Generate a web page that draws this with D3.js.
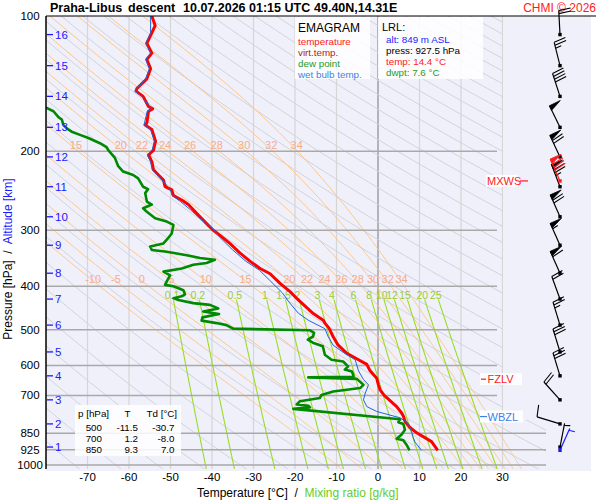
<!DOCTYPE html>
<html><head><meta charset="utf-8">
<script src="https://cdn.jsdelivr.net/npm/d3@7"></script>
<style>
body{margin:0;background:#fff;}
svg{display:block;font-family:"Liberation Sans",Arial,sans-serif;}
</style>
</head><body>
<svg id="c" width="600" height="500"></svg>
<script>
// ---------------- data ----------------
const pressureLevels = [200,300,400,500,600,700,850,925,1000];
const pressureLabels = [100,200,300,400,500,600,700,850,925,1000];
const tempTicks = [-70,-60,-50,-40,-30,-20,-10,0,10,20,30];
const isotherms = [-70,-60,-50,-40,-30,-20,-10,0,10,20,30];
const altKm = [1,2,3,4,5,6,7,8,9,10,11,12,13,14,15,16];
const altP  = [912,810,716,633,560,488,427,374,324,280,240,206,177,151,129,110];

const tempP = [100,105,109,113,115,121,125,131,138,145,147,151,159,161,163,173,175,179,190,199,204,211,220,226,232,240,244,251,257,263,270,280,290,300,310,321,337,352,365,375,394,411,429,460,476,483,493,500,518,541,564,583,597,617,641,663,680,700,741,766,778,799,825,850,887,927.5];
const tempT = [-54.5,-53.7,-54.5,-55.3,-55.7,-54.5,-55.7,-54.8,-55.7,-58.1,-58.3,-56.6,-55.3,-54.3,-55.3,-55.7,-56.1,-54.5,-53.6,-54.1,-55.3,-54.5,-54.1,-52.9,-51.7,-51.3,-49.7,-49.3,-47.3,-45.7,-44.5,-42.9,-41.3,-39.7,-37.7,-35.7,-33.3,-30.8,-28.4,-26.0,-23.6,-21.2,-19.2,-15.6,-13.2,-12.8,-12.0,-11.6,-10.8,-9.6,-7.5,-4.7,-2.7,-1.9,-0.3,0.1,0.5,1.5,4.5,5.7,6.1,6.5,7.7,9.5,12.9,14.4];

const dewP = [157,160,163,168,170,175,178,181,184,187,192,196,199,207,216,222,226,230,240,243,248,259,263,268,273,282,287,292,305,315,321,326,332,335,341,346,349,355,358,365,371,378,390,397,400,408,417,421,425,429,436,440,448,455,461,469,477,483,488,497,501,508,518,526,534,544,568,583,588,603,613,619,629,636,638,643,663,674,686,698,709,721,733,738,744,750,791,803,810,835,855,874,881,902,927.5];
const dewT = [-81,-80,-78.2,-77.0,-76.2,-75.8,-75.0,-73.8,-71.8,-69.8,-67.0,-65.4,-65.0,-63.4,-62.6,-61.4,-59.0,-57.8,-56.6,-55.4,-56.1,-55.7,-54.5,-56.6,-55.7,-53.7,-50.9,-49.3,-49.7,-50.9,-51.7,-54.9,-54.5,-50.9,-46.1,-42.9,-39.3,-41.3,-44.5,-47.3,-51.7,-50.1,-50.9,-51.3,-49.3,-46.9,-46.5,-47.3,-49.3,-48.1,-44.5,-40.5,-38.5,-42.1,-38.3,-42.3,-42.5,-38.9,-36.5,-34.9,-16.4,-15.4,-15.7,-16.9,-15.7,-13.3,-12.8,-11.2,-8.4,-7.2,-8.0,-6.3,-6.0,-5.9,-16.8,-5.1,-3.5,-4.3,-10.8,-13.6,-14.0,-18.8,-19.6,-16.8,-16.4,-20.4,5.3,4.9,6.1,6.5,5.7,4.5,6.1,6.9,7.6];

const wbP = [100,109,115,121,125,131,138,147,151,161,163,175,179,190,199,204,211,220,232,244,251,259,270,282,297,310,332,352,368,387,414,433,459,476,497,518,541,561,583,617,645,663,693,716,741,760,785,803,825,843,869,889,927.5];
const wbT = [-54.8,-54.8,-56.0,-54.8,-56.0,-55.1,-56.0,-58.6,-56.9,-54.6,-55.6,-56.4,-54.8,-53.9,-54.4,-55.6,-54.8,-54.4,-52.0,-50.0,-49.6,-47.6,-45.2,-43.0,-39.9,-38.3,-35.0,-31.8,-28.6,-26.2,-23.0,-21.5,-19.2,-16.8,-12.8,-12.0,-10.8,-8.4,-5.5,-4.7,-3.5,-2.3,-3.1,-3.5,-2.7,-0.3,5.3,6.9,7.7,8.1,8.5,8.9,10.5];

// wind at each km altitude (altP)
const windDir = [11,287,318,343,343,343,340,336,336,336,339,335,334,342,346,357];
const windKt  = [5,10,20,30,30,25,20,60,55,70,75,70,50,40,25,20];
const mxwsP = 233, mxwsDir = 336, mxwsKt = 80;
const sfcP = 927.5, sfcDir = 24, sfcKt = 5;
const fzlvP = 644, wbzlP = 780;

const mixRatios = [0.1,0.2,0.5,1,1.5,2,3,4,6,8,10,12,15,20,25];
const mixLabels = ["0.1","0.2","0.5","1","1.5","2","3","4","6","8","10","12","15","20","25"];
const thetaW = [-10,-5,0,5,10,15,20,22,24,26,28,30,32,34];
const thetaWLow = [-10,-5,0,5,10,15,20,22,24,26,28,30,32,34];
const thetaWHigh = [15,20,22,24,26,28,30,32,34];
const thetaDry = d3.range(190, 620, 10);

const tableRows = [["500","-11.5","-30.7"],["700","1.2","-8.0"],["850","9.3","7.0"]];

// ---------------- scales ----------------
const svg = d3.select("#c");
const x = d3.scaleLinear().domain([-80,30]).range([46,502.5]);
const y = d3.scaleLog().domain([100,1000]).range([16,465]);
const X0 = 46, Ytop = 16, Ybot = 469;

// background
svg.append("rect").attr("x",X0).attr("y",Ytop).attr("width",591-X0).attr("height",471-Ytop).attr("fill","#f0f0fb");

const defs = svg.append("defs");
defs.append("clipPath").attr("id","plot").append("path")
  .attr("d",`M${X0},${Ytop}H503V420H546V${Ybot}H${X0}Z`);
const g = svg.append("g").attr("clip-path","url(#plot)");

// thermodynamics helpers (background reference lines)
const es = Tc => 6.112*Math.exp(17.67*Tc/(Tc+243.5));
function dTdp(p,T){const e=es(T-273.15);const rs=0.622*e/(p-e);const Rd=287.04,cp=1005.7,L=2.501e6;
  return (Rd*T+L*rs)/(p*(cp+L*L*rs*0.622/(Rd*T*T)));}
function moistLine(tw){
  const up=[];let T=tw+273.15;
  for(let p=1000;p>=95;p-=2){up.push([p,T-273.15]);const k1=dTdp(p,T);const k2=dTdp(p-1,T-k1);T+= -2*k2;}
  const dn=[];T=tw+273.15;
  for(let p=1000;p<=1040;p+=2){dn.push([p,T-273.15]);const k2=dTdp(p+1,T+dTdp(p,T));T+=2*k2;}
  return dn.reverse().concat(up.slice(1));
}
const line = d3.line().x(d=>x(d[1])).y(d=>y(d[0]));

// isotherms
g.selectAll(".iso").data(isotherms).join("line")
  .attr("x1",d=>x(d)).attr("x2",d=>x(d)).attr("y1",Ytop).attr("y2",Ybot)
  .attr("stroke",d=>d===0?"#8c8c8c":"#d6d6d6").attr("stroke-width",1.2);

// dry adiabats
g.selectAll(".dry").data(thetaDry).join("path")
  .attr("d",th=>line(d3.range(95,1045,5).map(p=>[p,th*Math.pow(p/1000,0.2857)-273.15])))
  .attr("fill","none").attr("stroke","#d2d2d8").attr("stroke-width",1);

// moist adiabats
g.selectAll(".moist").data(thetaW).join("path")
  .attr("d",tw=>line(moistLine(tw))).attr("fill","none").attr("stroke","#ffc585").attr("stroke-width",1);

// mixing ratio lines
const tdOf = (w,p)=>{const e=w*p/(622+w);const l=Math.log(e/6.112);return 243.5*l/(17.67-l);};
g.selectAll(".mix").data(mixRatios).join("path")
  .attr("d",w=>line(d3.range(428,1041,4).map(p=>[p,tdOf(w,p)])))
  .attr("fill","none").attr("stroke","#99dd22").attr("stroke-width",1.1);

// pressure grid lines
svg.selectAll(".pl").data(pressureLevels).join("line")
  .attr("x1",X0).attr("x2",d=>d>=850?546:497).attr("y1",d=>y(d)).attr("y2",d=>y(d))
  .attr("stroke","#a9a9a9").attr("stroke-width",1.5);

// moist adiabat labels
function moistAtY(tw,yy){const pp=y.invert(yy);const pts=moistLine(tw);let best=pts[0];
  for(const q of pts){if(Math.abs(q[0]-pp)<Math.abs(best[0]-pp))best=q;}return best[1];}
const lblMoist = svg.append("g").attr("clip-path","url(#plot)").attr("font-size",11).attr("fill","#f7ab88").attr("text-anchor","middle").attr("dominant-baseline","central");
lblMoist.selectAll(".a").data(thetaWLow).join("text").attr("x",d=>x(moistAtY(d,279))+2).attr("y",279).text(d=>d);
lblMoist.selectAll(".b").data(thetaWHigh).join("text").attr("x",d=>x(moistAtY(d,145))+5).attr("y",145).text(d=>d);

// mixing ratio labels
svg.append("g").attr("font-size",10.5).attr("fill","#99cc33").attr("text-anchor","middle").attr("dominant-baseline","central")
  .selectAll("text").data(mixRatios).join("text")
  .attr("x",w=>x(tdOf(w,412))).attr("y",295).text((w,i)=>mixLabels[i]);

// profiles
const prof = svg.append("g").attr("clip-path","url(#plot)");
const pl = d3.line().x(d=>x(d[1])).y(d=>y(d[0]));
prof.append("path").attr("d",pl(dewP.map((p,i)=>[p,dewT[i]]))).attr("fill","none").attr("stroke","#008a00").attr("stroke-width",2.6).attr("stroke-linejoin","round");
prof.append("path").attr("d",pl(tempP.map((p,i)=>[p,tempT[i]]))).attr("fill","none").attr("stroke","#ff0000").attr("stroke-width",3).attr("stroke-linejoin","round");
prof.append("path").attr("d",pl(wbP.map((p,i)=>[p,wbT[i]]))).attr("fill","none").attr("stroke","#1e64dc").attr("stroke-width",1).attr("stroke-linejoin","round");

// axes frame
svg.append("line").attr("x1",X0).attr("x2",596).attr("y1",Ytop).attr("y2",Ytop).attr("stroke","#000").attr("stroke-width",1.2);
svg.append("line").attr("x1",X0).attr("x2",X0).attr("y1",Ytop).attr("y2",Ybot).attr("stroke","#000").attr("stroke-width",1.5);

// pressure labels
svg.append("g").attr("font-size",11.5).attr("text-anchor","middle").attr("dominant-baseline","central")
  .selectAll("text").data(pressureLabels).join("text").attr("x",30).attr("y",d=>y(d)).text(d=>d);

// altitude ticks
const alt = svg.append("g").attr("fill","#1a1aff");
alt.selectAll("line").data(altP).join("line").attr("x1",47).attr("x2",53).attr("y1",d=>y(d)).attr("y2",d=>y(d)).attr("stroke","#1a1aff").attr("stroke-width",1.3);
alt.selectAll("text").data(altP).join("text").attr("x",55).attr("y",d=>y(d)).attr("font-size",11.5).attr("dominant-baseline","central").text((d,i)=>altKm[i]);

// x tick labels
svg.append("g").attr("font-size",11.5).attr("text-anchor","middle").attr("dominant-baseline","central")
  .selectAll("text").data(tempTicks).join("text").attr("x",d=>x(d)).attr("y",476.5).text(d=>d);

// axis titles
const xt = svg.append("text").attr("x",197).attr("y",493).attr("font-size",12).attr("dominant-baseline","central").attr("xml:space","preserve");
xt.append("tspan").attr("fill","#000").text("Temperature [°C]  /  ");
xt.append("tspan").attr("fill","#66cc22").text("Mixing ratio [g/kg]");
const yt = svg.append("text").attr("transform","translate(8,259) rotate(-90)").attr("text-anchor","middle").attr("font-size",12).attr("dominant-baseline","central").attr("xml:space","preserve");
yt.append("tspan").attr("fill","#000").text("Pressure [hPa]  /  ");
yt.append("tspan").attr("fill","#1a1aff").text("Altitude [km]");

// header
const hd = svg.append("text").attr("y",12).attr("font-size",12.5).attr("font-weight","bold");
[["Praha-Libus",50],["descent",128],["10.07.2026 01:15 UTC",183],["49.40N,14.31E",314]].forEach(d=>hd.append("tspan").attr("x",d[1]).text(d[0]));
svg.append("text").attr("x",596).attr("y",12).attr("text-anchor","end").attr("font-size",12).attr("fill","#ff1a1a").text("CHMI © 2026");

// legend boxes
svg.append("rect").attr("x",295).attr("y",17).attr("width",75).attr("height",62).attr("fill","#fff").attr("opacity",0.85);
svg.append("rect").attr("x",378).attr("y",17).attr("width",105).attr("height",62).attr("fill","#fff").attr("opacity",0.85);
svg.append("text").attr("x",298).attr("y",27.5).attr("font-size",12).attr("dominant-baseline","central").text("EMAGRAM");
[["temperature","#ff1a1a"],["virt.temp.","#b01c1c"],["dew point","#1f9a1f"],["wet bulb temp.","#3c82e6"]].forEach((d,i)=>
  svg.append("text").attr("x",298).attr("y",41+i*11).attr("font-size",9.8).attr("dominant-baseline","central").attr("fill",d[1]).text(d[0]));
svg.append("text").attr("x",382).attr("y",27).attr("font-size",11).attr("dominant-baseline","central").text("LRL:");
[["alt: 849 m ASL","#1a1aff"],["press: 927.5 hPa","#000"],["temp: 14.4 °C","#ff1a1a"],["dwpt: 7.6 °C","#1f9a1f"]].forEach((d,i)=>
  svg.append("text").attr("x",386).attr("y",39.5+i*11).attr("font-size",9.8).attr("dominant-baseline","central").attr("fill",d[1]).text(d[0]));

// table
svg.append("rect").attr("x",75).attr("y",405).attr("width",106).attr("height",51).attr("fill","#fff").attr("opacity",0.85);
const tb = svg.append("g").attr("font-size",9.8).attr("dominant-baseline","central");
tb.append("text").attr("x",78).attr("y",413).text("p [hPa]");
tb.append("text").attr("x",127.5).attr("y",413).attr("text-anchor","middle").text("T");
tb.append("text").attr("x",146.5).attr("y",413).text("Td [°C]");
tableRows.forEach((r,i)=>{
  tb.append("text").attr("x",102).attr("y",427+i*11).attr("text-anchor","end").text(r[0]);
  tb.append("text").attr("x",138).attr("y",427+i*11).attr("text-anchor","end").text(r[1]);
  tb.append("text").attr("x",174.5).attr("y",427+i*11).attr("text-anchor","end").text(r[2]);
});

// level labels
svg.append("rect").attr("x",480).attr("y",y(fzlvP)-6).attr("width",42).attr("height",12).attr("fill","#fff").attr("opacity",0.9);
svg.append("line").attr("x1",481).attr("x2",486).attr("y1",y(fzlvP)).attr("y2",y(fzlvP)).attr("stroke","#ff1a1a").attr("stroke-width",1.2);
svg.append("text").attr("x",487.5).attr("y",y(fzlvP)).attr("font-size",11).attr("fill","#ff1a1a").attr("dominant-baseline","central").text("FZLV");
svg.append("rect").attr("x",480).attr("y",y(wbzlP)-6).attr("width",43).attr("height",12).attr("fill","#fff").attr("opacity",0.9);
svg.append("line").attr("x1",480).attr("x2",487).attr("y1",y(wbzlP)).attr("y2",y(wbzlP)).attr("stroke","#3c82e6").attr("stroke-width",1.2);
svg.append("text").attr("x",487.5).attr("y",y(wbzlP)).attr("font-size",11).attr("fill","#3c82e6").attr("dominant-baseline","central").text("WBZL");
svg.append("rect").attr("x",486).attr("y",y(mxwsP)-6).attr("width",32).attr("height",12).attr("fill","#fff").attr("opacity",0.9);
svg.append("text").attr("x",487).attr("y",y(mxwsP)).attr("font-size",11).attr("fill","#ff1a1a").attr("dominant-baseline","central").text("MXWS");
svg.append("line").attr("x1",520).attr("x2",528).attr("y1",y(mxwsP)).attr("y2",y(mxwsP)).attr("stroke","#ff1a1a").attr("stroke-width",1.2);

// wind barbs
const WX = 560, STAFF = 24;
function barb(gp, p, dir, kt, color){
  const a = dir*Math.PI/180;
  const sx = Math.sin(a), sy = -Math.cos(a);
  const bx = -sy, by = sx;
  const x0 = WX, y0 = y(p);
  const tx = x0+sx*STAFF, ty = y0+sy*STAFF;
  gp.append("line").attr("x1",x0).attr("y1",y0).attr("x2",tx).attr("y2",ty).attr("stroke",color).attr("stroke-width",1.2);
  let rem = Math.round(kt/5)*5, pos = 0;
  const L = 12;
  while(rem>=50){
    const px=tx-sx*pos, py=ty-sy*pos;
    gp.append("path").attr("d",`M${px},${py}L${px+bx*L},${py+by*L}L${px-sx*5},${py-sy*5}Z`).attr("fill",color).attr("stroke",color).attr("stroke-width",0.8);
    pos+=6; rem-=50;
  }
  while(rem>=10){
    const px=tx-sx*pos, py=ty-sy*pos;
    gp.append("line").attr("x1",px).attr("y1",py).attr("x2",px+bx*L+sx*2).attr("y2",py+by*L+sy*2).attr("stroke",color).attr("stroke-width",1.1);
    pos+=3; rem-=10;
  }
  if(rem>=5){
    if(pos===0) pos=2;
    const px=tx-sx*pos, py=ty-sy*pos;
    gp.append("line").attr("x1",px).attr("y1",py).attr("x2",px+bx*L*0.5+sx).attr("y2",py+by*L*0.5+sy).attr("stroke",color).attr("stroke-width",1.1);
  }
  gp.append("rect").attr("x",x0-1.7).attr("y",y0-1.7).attr("width",3.4).attr("height",3.4).attr("fill",color);
}
const wg = svg.append("g");
altP.forEach((p,i)=>barb(wg,p,windDir[i],windKt[i],"#000"));
barb(wg,mxwsP,mxwsDir,mxwsKt,"#ff1a1a");
barb(wg,sfcP,sfcDir,sfcKt,"#1a1aff");
</script>
</body></html>
